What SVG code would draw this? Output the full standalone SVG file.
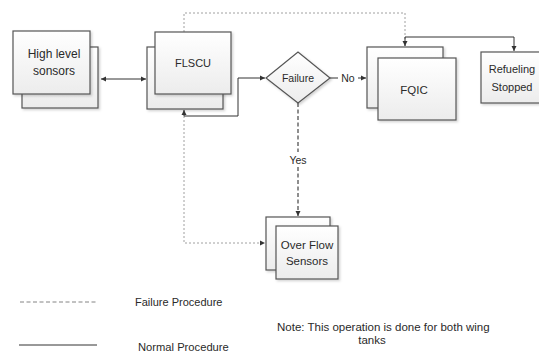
<svg xmlns="http://www.w3.org/2000/svg" width="539" height="356" viewBox="0 0 539 356">
<defs>
<linearGradient id="g" x1="0" y1="0" x2="0" y2="1">
<stop offset="0" stop-color="#ffffff"/>
<stop offset="1" stop-color="#ececec"/>
</linearGradient>
<filter id="sh" x="-10%" y="-10%" width="130%" height="130%">
<feDropShadow dx="1.5" dy="1.5" stdDeviation="1" flood-color="#000" flood-opacity="0.18"/>
</filter>
<marker id="ah" markerWidth="6" markerHeight="6" refX="5" refY="3" orient="auto" markerUnits="userSpaceOnUse">
<path d="M0,0.5 L5,3 L0,5.5 Z" fill="#333"/>
</marker>
<marker id="ahs" markerWidth="6" markerHeight="6" refX="1" refY="3" orient="auto" markerUnits="userSpaceOnUse">
<path d="M6,0.5 L1,3 L6,5.5 Z" fill="#333"/>
</marker>
</defs>
<style>
.box{fill:url(#g);stroke:#555;stroke-width:1.2;filter:url(#sh)}
.t{font-family:"Liberation Sans",Arial,sans-serif;font-size:11.5px;fill:#2a2a2a;text-anchor:middle}
.s{font-family:"Liberation Sans",Arial,sans-serif;font-size:11px;fill:#2a2a2a}
.n{fill:none;stroke:#333;stroke-width:1}
.d{fill:none;stroke:#888;stroke-width:0.8;stroke-dasharray:2,2}
.dd{fill:none;stroke:#444;stroke-width:1.2;stroke-dasharray:4,2.5}
</style>
<rect width="539" height="356" fill="#fff"/>
<g id="connectors">
<path class="d" d="M184,32 V13 H405 V46" marker-end="url(#ah)"/>
<path class="d" d="M184,116 V243 H265" marker-end="url(#ah)"/>
<path class="n" d="M101,79 H146" marker-start="url(#ahs)" marker-end="url(#ah)"/>
<path class="n" d="M184,110 V116 H238 V78 H265" marker-start="url(#ahs)" marker-end="url(#ah)"/>
<path class="n" d="M330,78 H338"/>
<path class="n" d="M358,78 H366" marker-end="url(#ah)"/>
<path class="n" d="M405,46 V37 H514 V51" marker-end="url(#ah)"/>
<path class="dd" d="M298,103 V152"/>
<path class="dd" d="M298,167 V216" marker-end="url(#ah)"/>
<text class="s" x="348" y="82" text-anchor="middle" style="font-size:10.5px">No</text>
<text class="s" x="298" y="164" text-anchor="middle" style="font-size:10.5px">Yes</text>
</g>
<g id="high-level-sensors">
<rect class="box" x="22" y="47" width="76" height="61"/>
<rect class="box" x="13" y="31" width="77" height="63"/>
<text class="t" x="54" y="58" style="font-size:12px">High level</text>
<text class="t" x="54" y="75" style="font-size:12px">sonsors</text>
</g>
<g id="flscu">
<rect class="box" x="147" y="47" width="76" height="62"/>
<rect class="box" x="155" y="32" width="76" height="62"/>
<text class="t" x="193" y="67" style="font-size:11px">FLSCU</text>
</g>
<g id="failure">
<path class="box" d="M266,78 L298,52 L330,78 L298,103 Z"/>
<text class="t" x="298" y="82" style="font-size:10.5px">Failure</text>
</g>
<g id="fqic">
<rect class="box" x="367" y="47" width="76" height="61"/>
<rect class="box" x="378" y="58" width="78" height="62"/>
<text class="t" x="414" y="94">FQIC</text>
</g>
<g id="refueling-stopped">
<rect class="box" x="481" y="52" width="77" height="51"/>
<text class="t" x="512" y="73" style="font-size:11px">Refueling</text>
<text class="t" x="512" y="91" style="font-size:11px">Stopped</text>
</g>
<g id="over-flow-sensors">
<rect class="box" x="266" y="217" width="64" height="53"/>
<rect class="box" x="276" y="226" width="62" height="53"/>
<text class="t" x="307" y="249">Over Flow</text>
<text class="t" x="307" y="265">Sensors</text>
</g>
<g id="legend">
<path d="M20,302 H97" style="fill:none;stroke:#777;stroke-width:0.9;stroke-dasharray:4,2.5"/>
<text class="s" x="135" y="306">Failure Procedure</text>
<path class="n" d="M19,345 H97"/>
<text class="s" x="138" y="351" style="font-size:11.2px">Normal Procedure</text>
<text class="s" x="277" y="331" style="font-size:11.5px">Note:  This operation is done for both wing</text>
<text class="s" x="372" y="344" text-anchor="middle" style="font-size:11.5px">tanks</text>
</g>
</svg>
